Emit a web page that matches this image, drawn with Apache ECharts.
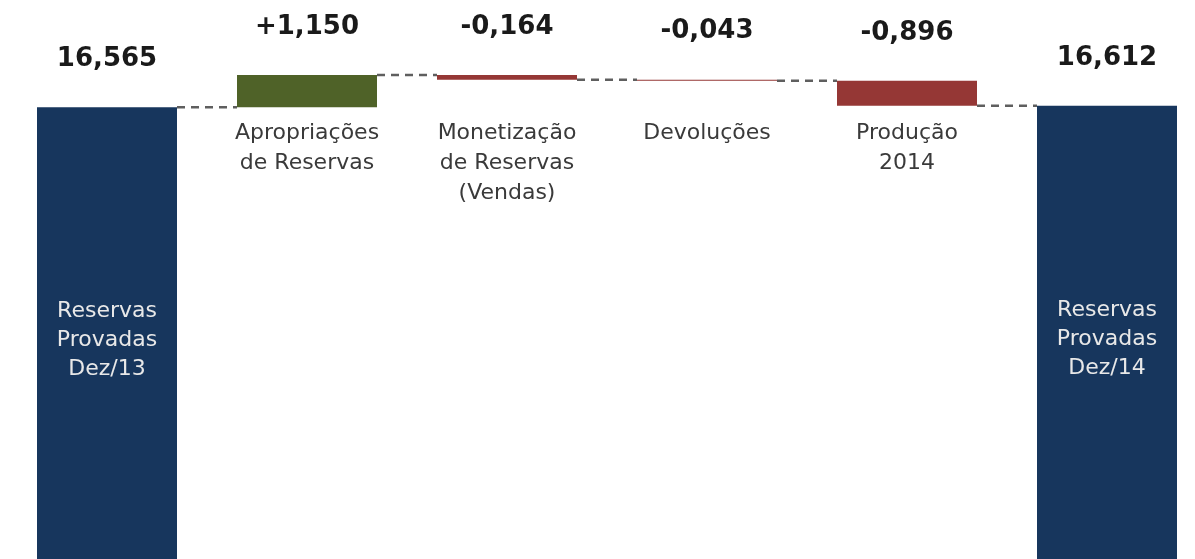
<!DOCTYPE html>
<html>
<head>
<meta charset="utf-8">
<script src="https://cdn.jsdelivr.net/npm/echarts@6/dist/echarts.min.js"></script>
<style>
  html, body { margin: 0; padding: 0; background: #ffffff; overflow: hidden; }
  #chart { width: 1207px; height: 559px; }
</style>
</head>
<body>
<div id="chart"></div>
<script>
// categories (axis labels under the change bars)
const categories = [
  'Reservas\nProvadas\nDez/13',
  'Apropriações\nde Reservas',
  'Monetização\nde Reservas\n(Vendas)',
  'Devoluções',
  'Produção\n2014',
  'Reservas\nProvadas\nDez/14'
];
// totals at both ends, changes in between
const totals = [16.565, null, null, null, null, 16.612];
const changes = [null, 1.150, -0.164, -0.043, -0.896, null];

const BLUE = '#17365d';
const GREEN = '#4f6228';
const RED = '#953735';

// build waterfall pieces from the data
const baseData = [];
const barData = [];
const connectors = [];
let running = 0;
categories.forEach((c, i) => {
  if (totals[i] != null) {
    running = totals[i];
    baseData.push(null);
    barData.push({ value: totals[i], raw: totals[i], itemStyle: { color: BLUE } });
  } else {
    const d = changes[i];
    const next = running + d;
    baseData.push(Math.min(running, next));
    barData.push({ value: Math.abs(d), raw: d, itemStyle: { color: d >= 0 ? GREEN : RED } });
    running = next;
  }
  if (i < categories.length - 1) connectors.push([i, +running.toFixed(3)]);
});

const fmt = (v, signed) => (signed && v > 0 ? '+' : '') + v.toFixed(3).replace('.', ',');

const chart = echarts.init(document.getElementById('chart'));
chart.setOption({
  animation: false,
  grid: { left: 7, right: 0, top: 0, bottom: 0 },
  xAxis: {
    type: 'category',
    position: 'top',
    data: categories,
    axisLine: { show: false },
    axisTick: { show: false },
    axisLabel: {
      inside: true,
      margin: 118,
      verticalAlign: 'top',
      interval: 0,
      fontFamily: 'DejaVu Sans',
      fontSize: 22,
      lineHeight: 30,
      color: '#3a3a3a',
      formatter: (v, i) => (totals[i] != null ? '' : v)
    }
  },
  yAxis: {
    type: 'value',
    min: 0.4,
    max: 20.4,
    show: false,
    splitLine: { show: false }
  },
  series: [
    {
      type: 'bar',
      stack: 'w',
      data: baseData,
      barWidth: '70%',
      itemStyle: { color: 'transparent' },
      silent: true
    },
    {
      type: 'bar',
      stack: 'w',
      data: barData,
      barWidth: '70%',
      label: {
        show: true,
        position: 'top',
        distance: 35,
        fontFamily: 'DejaVu Sans',
        fontWeight: 'bold',
        fontSize: 26,
        lineHeight: 26,
        color: '#1a1a1a',
        formatter: (p) => fmt(p.data.raw, changes[p.dataIndex] != null)
      }
    },
    {
      type: 'bar',
      data: totals,
      barWidth: '70%',
      barGap: '-100%',
      itemStyle: { color: 'transparent' },
      z: 3,
      label: {
        show: true,
        position: 'insideTop',
        distance: 190,
        fontFamily: 'DejaVu Sans',
        fontSize: 22,
        lineHeight: 29,
        color: '#e8e8e8',
        formatter: (p) => categories[p.dataIndex]
      }
    },
    {
      type: 'custom',
      data: connectors,
      encode: { x: 0, y: 1 },
      z: 1,
      renderItem: (params, api) => {
        const i = api.value(0);
        const level = api.value(1);
        const a = api.coord([i, level]);
        const b = api.coord([i + 1, level]);
        const half = api.size([1, 0])[0] * 0.35;
        return {
          type: 'line',
          shape: { x1: a[0] + half, y1: a[1], x2: b[0] - half, y2: b[1] },
          style: { stroke: '#5f5f5f', lineWidth: 2.5, lineDash: [8, 6] }
        };
      }
    }
  ]
});
</script>
</body>
</html>
